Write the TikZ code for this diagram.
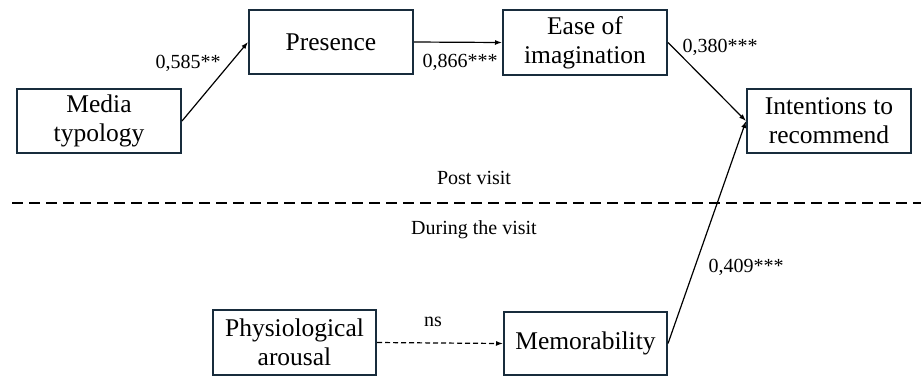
\documentclass[tikz,border=0pt]{standalone}
\usepackage{fontspec}
\setmainfont{Liberation Serif}
\usepackage{xcolor}
\definecolor{boxnavy}{RGB}{24,44,60}
\usepackage{tikz}
\usetikzlibrary{arrows.meta, positioning}

\begin{document}
\begin{tikzpicture}[x=1pt, y=-1pt,
  varbox/.style={draw=boxnavy, line width=2pt, minimum width=164pt, minimum height=64pt,
    align=center, inner sep=2pt, font=\fontsize{25.5}{29}\selectfont},
  coef/.style={font=\fontsize{20}{24}\selectfont},
  path/.style={line width=1.2pt, -{Latex[length=7pt, width=5pt]}}]
  \useasboundingbox (0,0) rectangle (921,376);
  % Post visit (top row)
  \node[varbox] (media) at (99,121) {Media\\typology};
  \node[varbox] (presence) at (331,42) {Presence};
  \node[varbox, minimum height=65pt] (ease) at (585,42.5) {Ease of\\imagination};
  \node[varbox] (intent) at (829,121) {Intentions to\\recommend};
  % During the visit (bottom row)
  \node[varbox, minimum height=65pt, minimum width=163pt] (arousal) at (294.5,342.5) {Physiological\\arousal};
  \node[varbox, minimum height=63pt, minimum width=163pt] (memo) at (585.5,343.5) {Memorability};

  % Separator
  \draw[line width=1.4pt, dash pattern=on 11pt off 6pt] (12,203) -- (921,203);
  \node[coef] (postlbl) at (474,178) {Post visit};
  \node[coef] (duringlbl) at (474,230) {During the visit};

  % Paths
  \draw[path] (media.east) -- (presence.west);
  \draw[path] (presence.east) -- (ease.west);
  \draw[path] (ease.east) -- (intent.west);
  \draw[path] (memo.east) -- (intent.west);
  \draw[path, dash pattern=on 5pt off 3pt] (arousal.east) -- (memo.west);

  % Coefficients
  \node[coef] (c1) at (188,63) {0,585**};
  \node[coef] (c2) at (460,62) {0,866***};
  \node[coef] (c3) at (720,47) {0,380***};
  \node[coef] (c4) at (746,267) {0,409***};
  \node[coef] (c5) at (433,322) {ns};
\end{tikzpicture}
\end{document}
